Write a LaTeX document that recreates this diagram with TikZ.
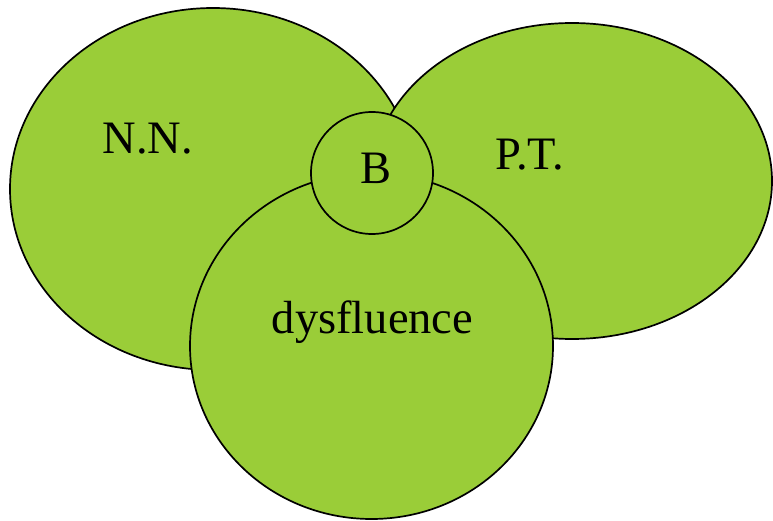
\documentclass[tikz,border=0pt]{standalone}
\usepackage{fontspec}
\setmainfont{Liberation Serif}
\usetikzlibrary{shapes.geometric}
\definecolor{leaf}{RGB}{154,205,56}
\tikzset{
  blob/.style={ellipse, draw=black, fill=leaf, line width=1.7pt, inner sep=0pt},
  lbl/.style={anchor=base, inner sep=0pt, font=\fontsize{46.5}{56}\selectfont}
}
\begin{document}
\begin{tikzpicture}[x=1pt,y=-1pt]
\useasboundingbox (0,0) rectangle (773,521);
\node[blob, minimum width=406pt, minimum height=362pt] (nn) at (213,189) {};
\node[blob, minimum width=400pt, minimum height=316pt] (pt) at (572,181) {};
\node[blob, minimum width=363pt, minimum height=346pt] (dys) at (371.5,346) {};
\node[blob, minimum width=122pt, minimum height=122pt] (b) at (372,173) {};
\node[lbl] (nnl) at (148,153.3) {N.N.};
\node[lbl] (ptl) at (530,169.3) {P.T.};
\node[lbl] (dysl) at (372.5,333.3) {dysfluence};
\node[lbl] (bl) at (376,184) {B};
\end{tikzpicture}
\end{document}
